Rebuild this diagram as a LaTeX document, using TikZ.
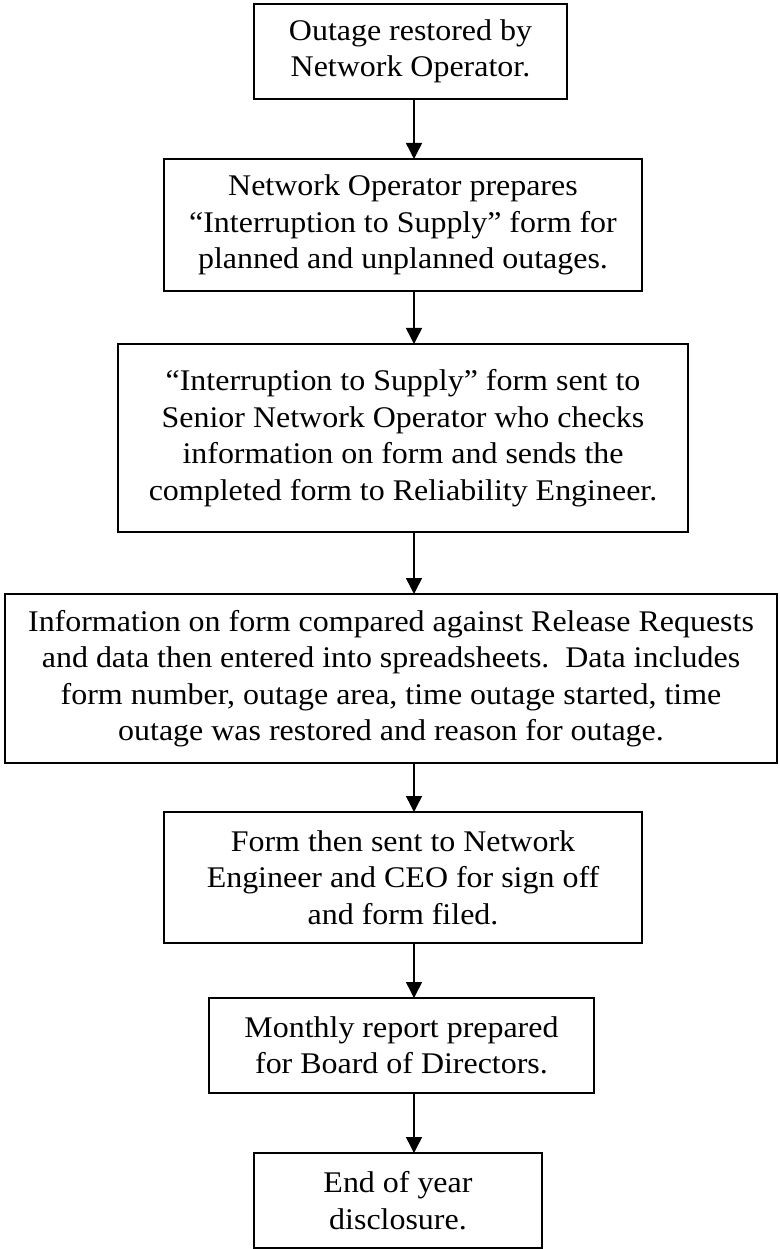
\documentclass[tikz,border=0pt]{standalone}
\usepackage{fontspec}
\setmainfont[FakeStretch=1.065]{Liberation Serif}
\usepackage{tikz}
\usetikzlibrary{arrows.meta, positioning}
\tikzset{
  stepbox/.style={
    align=center,
    draw=black,
    line width=0.6pt,
    inner sep=0pt,
    outer sep=0pt,
    font=\fontsize{12}{14.6}\selectfont
  },
  arrow/.style={draw, line width=0.6pt, -{Triangle[length=6.4pt, width=6.4pt]}}
}

\begin{document}
\begin{tikzpicture}
    \useasboundingbox (0,0) rectangle (311.6pt,-499.6pt);
    \coordinate (spine) at (165.6pt,0);
    \node (restored) [stepbox, minimum width=125.2pt, minimum height=38pt] at (164.2pt,-20.6pt) {Outage restored by \\ Network Operator.};
    \node (prepare) [stepbox, minimum width=191.2pt, minimum height=52.8pt, below=24pt of restored, xshift=-3pt] {Network Operator prepares \\
      “Interruption to Supply” form for \\ planned and unplanned outages.};
    \node (check) [stepbox, minimum width=228pt, minimum height=75.2pt, below=21.2pt of prepare] {“Interruption to Supply” form sent to \\
      Senior Network Operator who checks \\
      information on form and sends the \\
      completed form to Reliability Engineer.};
    \node (enter) [stepbox, minimum width=308.8pt, minimum height=67.6pt, below=24.8pt of check, xshift=-4.8pt] {Information on form compared against Release Requests \\
      and data then entered into spreadsheets.\ \ Data includes \\
      form number, outage area, time outage started, time \\
      outage was restored and reason for outage.};
    \node (signoff) [stepbox, minimum width=191.2pt, minimum height=52.4pt, below=19.6pt of enter, xshift=4.8pt] {Form then sent to Network \\
      Engineer and CEO for sign off \\ and form filed.};
    \node (report) [stepbox, minimum width=154pt, minimum height=38pt, below=22pt of signoff, xshift=-0.6pt] {Monthly report prepared \\ for Board of Directors.};
    \node (disclose) [stepbox, minimum width=115.2pt, minimum height=38pt, below=24pt of report, xshift=-1.4pt] {End of year \\ disclosure.};
    \path [arrow] (restored.south -| spine) -- (prepare.north -| spine);
    \path [arrow] (prepare.south -| spine) -- (check.north -| spine);
    \path [arrow] (check.south -| spine) -- (enter.north -| spine);
    \path [arrow] (enter.south -| spine) -- (signoff.north -| spine);
    \path [arrow] (signoff.south -| spine) -- (report.north -| spine);
    \path [arrow] (report.south -| spine) -- (disclose.north -| spine);
  \end{tikzpicture}
\end{document}
